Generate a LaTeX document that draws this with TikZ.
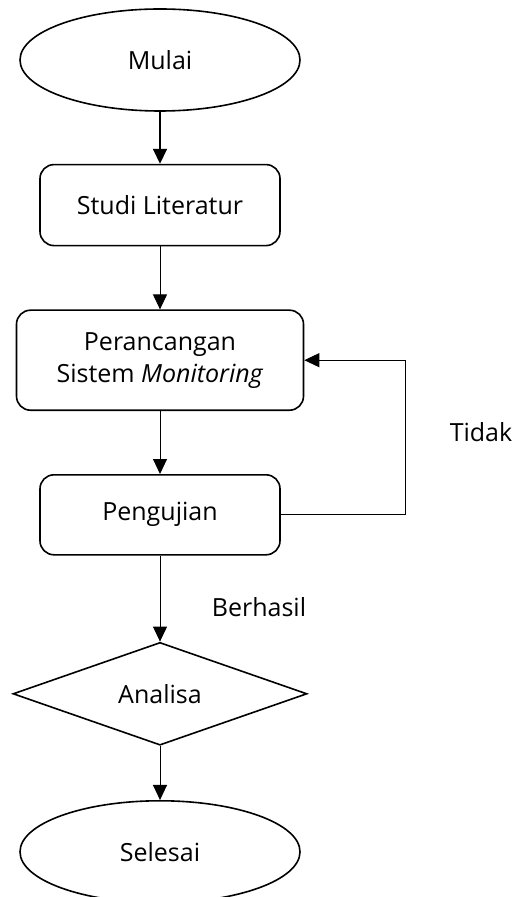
\documentclass[tikz,border=0pt]{standalone}
\usepackage{fontspec}
\setmainfont{Open Sans}
\usepackage{tikz}
\usetikzlibrary{arrows.meta,positioning,shapes.geometric}

\begin{document}
\begin{tikzpicture}[
	font=\fontsize{12.5}{16}\selectfont,
	node distance=30pt,
	terminal/.style={draw, ellipse, line width=0.8pt, minimum width=140pt, minimum height=51pt, inner sep=0pt},
	process/.style={draw, rounded corners=7pt, align=center, line width=0.8pt, minimum width=120pt, minimum height=40.5pt},
	decision/.style={draw, diamond, line width=0.8pt, minimum width=147pt, minimum height=50.5pt, inner sep=0pt},
	arrow/.style={-{Triangle[length=7.5pt,width=7pt]}, line width=0.5pt}
]
\useasboundingbox (0,0) rectangle (257.5pt,-448.5pt);

\node[terminal] (mulai) at (80pt,-30pt) {Mulai};
\node[process, below=26pt of mulai] (studi) {Studi Literatur};
\node[process, below=31.5pt of studi, minimum width=143.5pt, minimum height=50pt] (peran) {Perancangan\\Sistem \textit{Monitoring}};
\node[process, below=31.5pt of peran, minimum height=40pt] (peng) {Pengujian};
\node[decision, below=43pt of peng] (analisa) {Analisa};
\node[terminal, below=27pt of analisa] (selesai) {Selesai};

\node (berhasil) at (129.5pt,-303.5pt) {Berhasil};
\node (tidak) at (240.5pt,-216pt) {Tidak};

\draw[arrow, line width=0.8pt] (mulai) -- (studi);
\draw[arrow] (studi) -- (peran);
\draw[arrow] (peran) -- (peng);
\draw[arrow] (peng) -- (analisa);
\draw[arrow] (analisa) -- (selesai);
\draw[arrow] (peng.east) -- ++(62.5pt,0) |- (peran.east);
\end{tikzpicture}
\end{document}
